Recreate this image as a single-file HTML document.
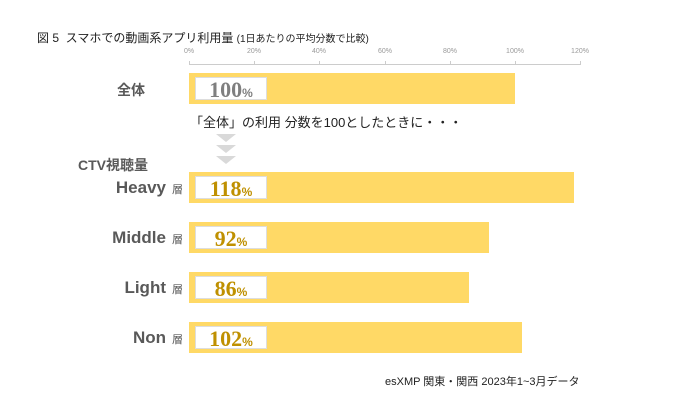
<!DOCTYPE html>
<html><head><meta charset="utf-8"><style>
body{margin:0;width:700px;height:400px;background:#fff;font-family:"Liberation Sans","Noto Sans CJK JP",sans-serif;position:relative;overflow:hidden}
.a{position:absolute;white-space:nowrap}
.bar{position:absolute;left:189px;height:31px;background:#FFD966}
.box{position:absolute;left:6px;top:4px;width:72px;height:23px;background:#fff;border:1px solid #ddd;box-sizing:border-box;font-weight:bold;font-size:22px;line-height:23px;font-family:"Liberation Serif","Noto Serif CJK SC",serif;color:#BF9000;text-align:center}
.box small{font-size:12px;font-family:"Liberation Sans",sans-serif}
.lab{position:absolute;right:517px;font-weight:bold;color:#595959;font-size:17px;text-align:right}
.lab span{font-size:11px;font-weight:normal;margin-left:6px}
.t{position:absolute;top:48px;font-size:7px;color:#999;transform:translateX(-50%)}
</style></head><body>
<div class="a" style="left:37px;top:29px;font-size:12px;color:#222">図 5&nbsp; スマホでの動画系アプリ利用量 <span style="font-size:10px">(1日あたりの平均分数で比較)</span></div>
<div class="t" style="left:189px">0%</div><div class="t" style="left:254px">20%</div><div class="t" style="left:319px">40%</div><div class="t" style="left:385px">60%</div><div class="t" style="left:450px">80%</div><div class="t" style="left:515px">100%</div><div class="t" style="left:580px">120%</div>
<div class="a" style="left:189px;top:64px;width:391px;height:1px;background:#ccc"></div>
<svg class="a" style="left:0;top:0" width="700" height="400"><g stroke="#ccc"><line x1="189.5" y1="61" x2="189.5" y2="65"/><line x1="254.5" y1="61" x2="254.5" y2="65"/><line x1="319.5" y1="61" x2="319.5" y2="65"/><line x1="385.5" y1="61" x2="385.5" y2="65"/><line x1="450.5" y1="61" x2="450.5" y2="65"/><line x1="515.5" y1="61" x2="515.5" y2="65"/><line x1="580.5" y1="61" x2="580.5" y2="65"/></g>
<g fill="#d9d9d9"><polygon points="216,134 236,134 226,142"/><polygon points="216,145 236,145 226,153"/><polygon points="216,156 236,156 226,164"/></g></svg>
<div class="bar" style="top:73px;width:326px"><div class="box" style="color:#7f7f7f">100<small>%</small></div></div>
<div class="lab" style="top:80px;right:555px;font-size:14px">全体</div>
<div class="a" style="left:190px;top:112px;font-size:13px;color:#222">「全体」の利用 分数を100としたときに・・・</div>
<div class="a" style="left:78px;top:155px;font-size:14px;font-weight:bold;color:#595959">CTV視聴量</div>
<div class="bar" style="top:172px;width:385px"><div class="box">118<small>%</small></div></div>
<div class="lab" style="top:178px">Heavy<span>層</span></div>
<div class="bar" style="top:222px;width:300px"><div class="box">92<small>%</small></div></div>
<div class="lab" style="top:228px">Middle<span>層</span></div>
<div class="bar" style="top:272px;width:280px"><div class="box">86<small>%</small></div></div>
<div class="lab" style="top:278px">Light<span>層</span></div>
<div class="bar" style="top:322px;width:333px"><div class="box">102<small>%</small></div></div>
<div class="lab" style="top:328px">Non<span>層</span></div>
<div class="a" style="left:385px;top:373px;font-size:11px;color:#222">esXMP 関東・関西 2023年1~3月データ</div>
</body></html>
